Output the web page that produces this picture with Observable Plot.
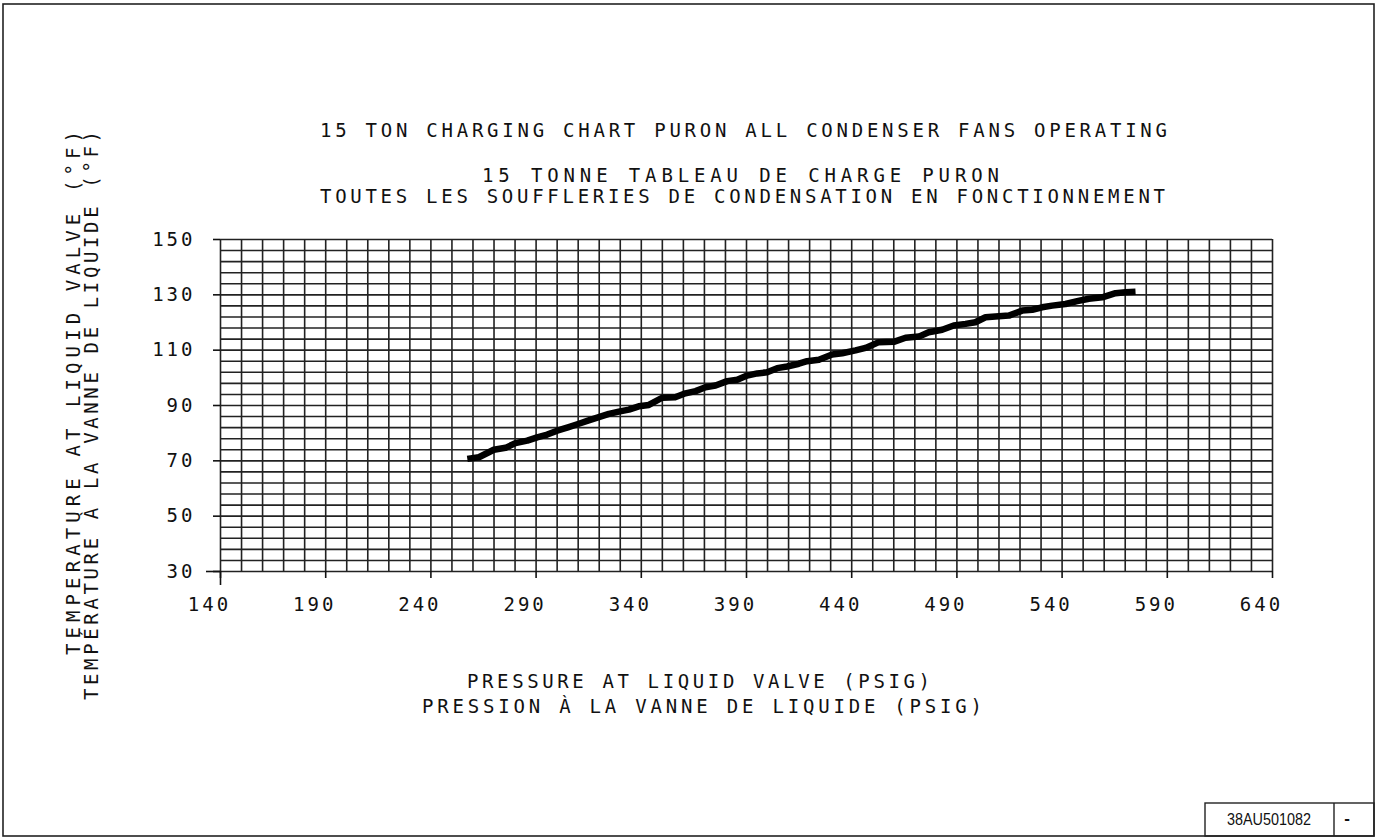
<!DOCTYPE html>
<html><head><meta charset="utf-8">
<script src="https://cdn.jsdelivr.net/npm/d3@7"></script>
<script src="https://cdn.jsdelivr.net/npm/@observablehq/plot@0.6"></script>
<style>
html,body{margin:0;padding:0;background:#fff;}
#wrap{position:relative;width:1377px;height:838px;overflow:hidden;background:#fff;}
#wrap svg{position:absolute;left:0;top:0;}
</style></head><body><div id="wrap"></div>
<script>
// Liquid valve pressure (psig)
const pressure = [257.3,262.8,269.9,275.5,280.2,285.8,290.5,295.3,300.0,305.5,310.3,315.0,319.8,324.6,329.3,334.1,338.8,343.6,349.9,356.1,361.0,365.8,370.5,375.3,380.8,385.6,390.3,395.1,399.8,404.6,409.3,414.9,418.8,424.4,430.7,435.5,441.8,446.6,452.9,460.0,465.6,471.9,476.6,483.0,488.5,494.1,498.8,503.6,508.3,514.7,521.0,525.8,530.5,535.3,541.6,547.2,552.7,559.1,565.4,570.1,574.9];
// Liquid valve temperature (°F) at each pressure
const temperature = [70.7,71.3,74.0,74.7,76.4,77.3,78.5,79.5,80.9,82.2,83.4,84.6,85.8,87.0,87.8,88.5,89.7,90.2,92.8,93.0,94.4,95.2,96.6,97.2,98.8,99.3,100.8,101.6,102.0,103.5,104.1,105.1,106.0,106.5,108.4,108.9,109.9,110.8,112.9,113.0,114.5,114.9,116.5,117.4,118.9,119.5,120.1,121.9,122.2,122.5,124.3,124.6,125.5,126.1,126.7,127.7,128.6,129.1,130.6,130.9,131.1];

const xTicks = [140,190,240,290,340,390,440,490,540,590,640];
const yTicks = [30,50,70,90,110,130,150];
const xDomain = [140,640];
const yDomain = [30,150];
const xGridStep = 10;
const yGridStep = 4;

const titleLines = [
  "15 TON CHARGING CHART PURON ALL CONDENSER FANS OPERATING",
  "15 TONNE TABLEAU DE CHARGE PURON",
  "TOUTES LES SOUFFLERIES DE CONDENSATION EN FONCTIONNEMENT"
];
const xLabelLines = [
  "PRESSURE AT LIQUID VALVE (PSIG)",
  "PRESSION À LA VANNE DE LIQUIDE (PSIG)"
];
const yLabelLines = [
  "TEMPERATURE AT LIQUID VALVE (°F)",
  "TEMPÉRATURE À LA VANNE DE LIQUIDE (°F)"
];
const drawingNumber = "38AU501082";
const revision = "-";

const data = pressure.map((p, i) => ({p, t: temperature[i]}));
const FONT = "'DejaVu Sans Mono', monospace";
const GRID = "#222";

const xGrid = d3.range(xDomain[0], xDomain[1] + 0.001, xGridStep);
const yGrid = d3.range(yDomain[0], yDomain[1] + 0.001, yGridStep);

const chart = Plot.plot({
  width: 1377, height: 838,
  marginLeft: 220, marginRight: 105, marginTop: 239, marginBottom: 267,
  x: {domain: xDomain},
  y: {domain: yDomain},
  style: {fontFamily: FONT, fontSize: "19px", letterSpacing: "3px", background: "transparent", color: "#111"},
  marks: [
    Plot.ruleX(xGrid, {x: d => d, stroke: GRID, strokeWidth: 1.6}),
    Plot.ruleY(yGrid, {y: d => d, stroke: GRID, strokeWidth: 1.6}),
    Plot.axisX({ticks: xTicks, tickSize: 7, tickFormat: () => "", label: null, strokeWidth: 1.6}),
    Plot.axisX({ticks: [xDomain[0]], tickSize: 14, tickFormat: () => "", label: null, strokeWidth: 1.6}),
    Plot.axisX({ticks: xTicks, tickSize: 0, tickPadding: 26, dx: -11, label: null}),
    Plot.axisY({ticks: yTicks, tickSize: 7, tickPadding: 18, label: null, strokeWidth: 1.6}),
    Plot.axisY({ticks: [yDomain[0]], tickSize: 14, tickFormat: () => "", label: null, strokeWidth: 1.6}),
    Plot.line(data, {x: "p", y: "t", stroke: "#000", strokeWidth: 6.5, strokeLinejoin: "round", strokeLinecap: "butt"})
  ]
});

const wrap = document.getElementById("wrap");
wrap.appendChild(chart);

// Annotation overlay: titles, axis titles, drawing frame and number block
const svg = d3.create("svg").attr("width", 1377).attr("height", 838)
  .style("pointer-events", "none")
  .attr("font-family", FONT).attr("font-size", 19).attr("fill", "#111");

svg.append("rect").attr("x", 3).attr("y", 4).attr("width", 1371).attr("height", 832)
  .attr("fill", "none").attr("stroke", "#222").attr("stroke-width", 1.6);
svg.append("rect").attr("x", 1205).attr("y", 803).attr("width", 169).attr("height", 33)
  .attr("fill", "none").attr("stroke", "#222").attr("stroke-width", 1.4);
svg.append("line").attr("x1", 1334).attr("x2", 1334).attr("y1", 803).attr("y2", 836)
  .attr("stroke", "#222").attr("stroke-width", 1.4);

function txt(s, x, y, len, rot) {
  const t = svg.append("text").attr("x", x).attr("y", y).text(s)
    .attr("textLength", len).attr("lengthAdjust", "spacing");
  if (rot) t.attr("transform", `rotate(-90 ${x} ${y})`);
  return t;
}
txt(titleLines[0], 320, 137, 847);
txt(titleLines[1], 482, 182, 517);
txt(titleLines[2], 320, 203, 845);
txt(xLabelLines[0], 467, 688, 463);
txt(xLabelLines[1], 422, 713, 560);
txt(yLabelLines[0], 80, 655, 524, true);
txt(yLabelLines[1], 98, 700, 569, true);

svg.append("text").attr("x", 1227).attr("y", 825).text(drawingNumber)
  .attr("font-family", "'Liberation Sans', Arial, sans-serif").attr("font-size", 17)
  .attr("textLength", 84).attr("lengthAdjust", "spacingAndGlyphs");
svg.append("text").attr("x", 1347).attr("y", 824).attr("text-anchor", "middle").text(revision)
  .attr("font-family", "'Liberation Sans', Arial, sans-serif").attr("font-size", 17).attr("font-weight", "bold");

wrap.appendChild(svg.node());
</script></body></html>
